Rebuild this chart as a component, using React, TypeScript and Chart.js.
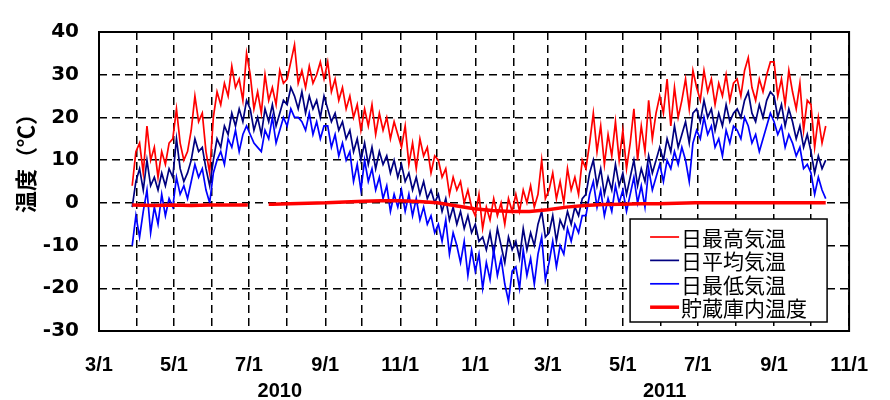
import { useEffect, useRef } from 'react';
import { Chart, registerables } from 'chart.js';

Chart.register(...registerables);

// x axis: days since 2010-03-01
const MONTH_TICK_DAYS = [0, 31, 61, 92, 122, 153, 184, 214, 245, 275, 306, 337, 365, 396, 426, 457, 487, 518, 549, 579, 610];
const MONTH_TICK_LABELS = ['3/1', '', '5/1', '', '7/1', '', '9/1', '', '11/1', '', '1/1', '', '3/1', '', '5/1', '', '7/1', '', '9/1', '', '11/1'];
const YEAR_LABELS = ['2010', '2011'];
const YEAR_LABEL_DAYS = [147, 460];
const Y_TICKS = [-30, -20, -10, 0, 10, 20, 30, 40];

const SERIES_LABELS = ['日最高気温', '日平均気温', '日最低気温', '貯蔵庫内温度'];
const Y_TITLE = '温度（℃）';

// daily series sampled every 3 days from 2010-03-28 (day 27)
const SERIES_START_DAY = 27;
const SERIES_STEP_DAYS = 3;

const MAX_TEMP = [
  4, 12,
  14, 7, 18, 10, 13, 6, 12, 9, 14, 15,
  22, 14, 10, 12, 17, 25, 19, 21, 12, 7,
  20, 26, 23, 28, 25, 32, 27, 29, 24, 35,
  30, 22, 26, 21, 30, 24, 27, 23, 31, 28,
  29, 33, 37, 28, 31, 27, 32, 28, 30, 33, 29,
  33, 26, 29, 24, 27, 22, 25, 20, 23, 17,
  22, 18, 23, 16, 21, 17, 20, 15, 19, 16,
  13, 18, 9, 14, 8, 15, 11, 13, 7, 11,
  10, 6, 8, 2, 6, 3, 5, 0, 3, -1,
  -3, 2, -6, -1, -4, 1, -3, 0, -5, 1, -2,
  2, -2, 3, 0, 4, -1, 2, 10, 1,
  3, 7, 1, 5, 0, 8, 3, 6, 2, 10,
  8, 14, 21, 12, 18, 9, 16, 11, 19, 10,
  17, 8, 14, 22, 10, 18, 12, 24, 15, 21, 25,
  21, 29, 18, 27, 20, 24, 29, 22, 31, 27,
  24, 31, 26, 29, 23, 28, 25, 30, 24, 28,
  29, 25, 31, 34, 27, 24, 29, 26, 30, 33,
  33, 25, 29, 23, 31, 26, 22, 28, 17, 24,
  23, 13, 20, 14, 18,
];

const MEAN_TEMP = [
  -1, 5,
  8, 3, 10, 4, 6, 3, 7, 4, 8, 6,
  15, 8, 5, 7, 10, 15, 12, 13, 8, 4,
  10, 15, 13, 18, 16, 21, 18, 22, 19, 24,
  22, 17, 20, 16, 22, 19, 23, 18, 21, 24,
  23, 27, 25, 22, 26, 21, 25, 22, 24, 20, 25,
  22, 19, 21, 17, 19, 15, 17, 12, 15, 10,
  14, 9, 13, 8, 12, 9, 11, 7, 10, 6,
  9, 5, 7, 3, 6, 2, 5, 1, 3, 0,
  2, -2, 1, -4, -1, -5, -2, -6, -3, -7,
  -5, -9, -8, -11, -7, -12, -6, -10, -14, -8, -11,
  -9, -13, -6, -11, -7, -10, -5, -2, -8,
  -7, -3, -9, -4, -6, -2, -5, -1, -3, 1,
  2, 7, 10, 4, 8, 2, 6, 3, 9, 4,
  7, 2, 6, 10, 4, 8, 5, 11, 7, 10, 13,
  10, 15, 12, 18, 13, 16, 19, 14, 21, 22,
  19, 24, 20, 22, 17, 21, 18, 23, 19, 21,
  22, 20, 24, 26, 21, 19, 23, 20, 24, 26,
  25, 20, 23, 18, 22, 19, 15, 18, 13, 16,
  12, 7, 11, 8, 10,
];

const MIN_TEMP = [
  -10, -3,
  -8, -2, 3, -7, -1, -5, 2, -3, 1, -1,
  6, 2, 4, 1, 5, 9, 6, 8, 3, 0,
  7, 10, 12, 9, 15, 13, 17, 12, 16, 18,
  16, 14, 13, 12, 17, 15, 20, 14, 17, 20,
  18, 22, 20, 20, 19, 17, 21, 16, 19, 15, 18,
  18, 13, 16, 11, 14, 10, 12, 5, 9, 3,
  10, 5, 8, 3, 6, 1, 4, -2, 2, -1,
  3, -2, 2, -3, 1, -4, -1, -5, -3, -7,
  -5, -9, -4, -12, -7, -10, -14, -9, -17, -11,
  -16, -12, -20, -14, -18, -11, -17, -13, -19, -23, -16,
  -15, -20, -11, -17, -13, -19, -12, -8, -18,
  -14, -9, -15, -10, -12, -6, -9, -5, -7, -3,
  -3, 2, 5, -1, 3, -3, 1, -2, 4, 0,
  3, -2, 2, 6, 0, 4, -1, 8, 3, 6, 9,
  5, 10, 8, 12, 9, 13, 10, 5, 14, 17,
  15, 20, 16, 18, 13, 15, 11, 17, 14, 18,
  17, 15, 20, 18, 14, 16, 12, 15, 18, 21,
  19, 16, 18, 13, 16, 14, 11, 13, 8, 9,
  7, 2, 6, 3, 1,
];

const STORE_DAYS = [27, 45, 60, 75, 90, 105, 121, 128, 138, 141, 155, 170, 185, 200, 215, 230, 245, 260, 275, 290, 305, 320, 335, 350, 365, 380, 395, 410, 425, 440, 455, 470, 485, 500, 515, 530, 545, 560, 575, 591];
const STORE_TEMP: (number | null)[] = [-0.5, -0.6, -0.5, -0.6, -0.5, -0.5, -0.5, null, -0.3, -0.3, -0.2, -0.1, 0, 0.2, 0.4, 0.5, 0.5, 0.3, 0, -0.7, -1.4, -1.8, -2, -2, -1.6, -1, -0.6, -0.4, -0.3, -0.2, -0.2, -0.1, 0, 0, 0, 0, 0, 0, 0, 0];

const COLORS = ['#ff0000', '#000080', '#0000ff', '#ff0000'];
const WIDTHS = [1.7, 1.7, 1.7, 3.5];

const toPoints = (vals: number[]) => vals.map((v, i) => ({ x: SERIES_START_DAY + i * SERIES_STEP_DAYS, y: v }));

const decorPlugin = {
  id: 'decor',
  afterDatasetsDraw(chart: any) {
    const { ctx, chartArea: a } = chart;
    ctx.save();
    ctx.strokeStyle = '#000';
    ctx.lineWidth = 2;
    ctx.setLineDash([]);
    ctx.strokeRect(a.left, a.top, a.right - a.left, a.bottom - a.top);
    ctx.restore();
  },
  afterDraw(chart: any) {
    const { ctx, chartArea: a, scales } = chart;
    ctx.save();
    ctx.fillStyle = '#000';
    ctx.font = 'bold 20px "Liberation Sans", Arial, sans-serif';
    ctx.textAlign = 'center';
    ctx.textBaseline = 'middle';
    YEAR_LABELS.forEach((t, i) => {
      ctx.fillText(t, scales.x.getPixelForValue(YEAR_LABEL_DAYS[i]), 391);
    });
    ctx.save();
    ctx.translate(26, 158);
    ctx.rotate(-Math.PI / 2);
    ctx.font = 'bold 22px "Noto Sans CJK JP", sans-serif';
    ctx.fillText(Y_TITLE, 0, 0);
    ctx.restore();
    const w = 197, h = 103;
    const x0 = a.right - 22 - w;
    const y0 = a.bottom - 9 - h;
    ctx.fillStyle = '#fff';
    ctx.fillRect(x0, y0, w, h);
    ctx.strokeStyle = '#000';
    ctx.lineWidth = 1.5;
    ctx.strokeRect(x0, y0, w, h);
    ctx.font = '21px "Noto Sans CJK JP", sans-serif';
    ctx.textAlign = 'left';
    ctx.textBaseline = 'middle';
    chart.data.datasets.forEach((ds: any, i: number) => {
      const cy = y0 + 18 + i * 23.4;
      ctx.strokeStyle = ds.borderColor;
      ctx.lineWidth = ds.borderWidth;
      ctx.beginPath();
      ctx.moveTo(x0 + 20, cy);
      ctx.lineTo(x0 + 49, cy);
      ctx.stroke();
      ctx.fillStyle = '#000';
      ctx.fillText(ds.label, x0 + 51, cy + 1);
    });
    ctx.restore();
  },
};

export default function App() {
  const ref = useRef<HTMLCanvasElement>(null);
  useEffect(() => {
    document.body.style.margin = '0';
    const seriesVals = [MAX_TEMP, MEAN_TEMP, MIN_TEMP];
    const datasets: any[] = seriesVals.map((vals, i) => ({
      label: SERIES_LABELS[i],
      data: toPoints(vals),
      borderColor: COLORS[i],
      borderWidth: WIDTHS[i],
      pointRadius: 0,
      tension: 0,
      order: 4 - i,
    }));
    datasets.push({
      label: SERIES_LABELS[3],
      data: STORE_DAYS.map((d, i) => ({ x: d, y: STORE_TEMP[i] })),
      borderColor: COLORS[3],
      borderWidth: WIDTHS[3],
      pointRadius: 0,
      tension: 0,
      spanGaps: false,
      order: 1,
    });
    const gridCommon = { color: '#000', lineWidth: 1.5, drawTicks: false };
    const chart = new Chart(ref.current!, {
      type: 'line',
      data: { datasets },
      options: {
        responsive: false,
        animation: false,
        devicePixelRatio: 1,
        layout: { padding: { left: 0, top: 25, right: 21, bottom: 0 } },
        plugins: { legend: { display: false }, tooltip: { enabled: false } },
        scales: {
          x: {
            type: 'linear',
            min: 0,
            max: 610,
            afterBuildTicks: (s: any) => {
              s.ticks = MONTH_TICK_DAYS.map((v) => ({ value: v }));
            },
            afterFit: (s: any) => {
              s.height = 69;
            },
            ticks: {
              autoSkip: false,
              maxRotation: 0,
              minRotation: 0,
              padding: 22,
              color: '#000',
              font: { family: '"Liberation Sans", Arial, sans-serif', size: 20, weight: 'bold' },
              callback: (v: any) => {
                const idx = MONTH_TICK_DAYS.indexOf(Number(v));
                return idx >= 0 ? MONTH_TICK_LABELS[idx] : '';
              },
            },
            grid: gridCommon,
            border: { display: false, dash: [8, 5] },
          },
          y: {
            type: 'linear',
            min: -30,
            max: 40,
            afterBuildTicks: (s: any) => {
              s.ticks = Y_TICKS.map((v) => ({ value: v }));
            },
            afterFit: (s: any) => {
              s.width = 99;
            },
            ticks: {
              padding: 20,
              color: '#000',
              font: { family: '"DejaVu Sans", sans-serif', size: 20, weight: 'bold' },
            },
            grid: gridCommon,
            border: { display: false, dash: [8, 5] },
          },
        },
      } as any,
      plugins: [decorPlugin],
    });
    return () => chart.destroy();
  }, []);
  return (
    <div style={{ width: 890, height: 400, background: '#fff' }}>
      <canvas ref={ref} width={890} height={400} style={{ display: 'block' }} />
    </div>
  );
}
